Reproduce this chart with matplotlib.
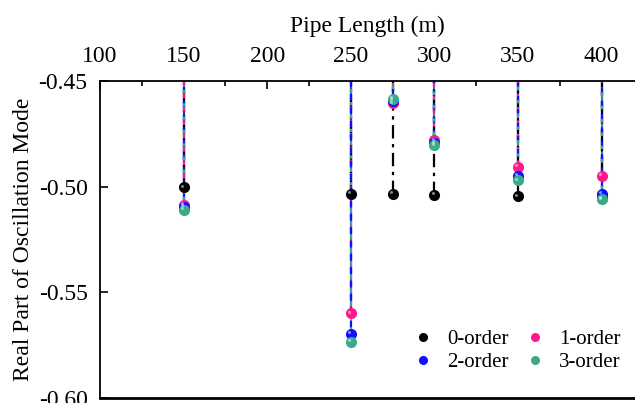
import matplotlib
matplotlib.use("Agg")
import matplotlib.pyplot as plt
from matplotlib.ticker import MultipleLocator
from matplotlib.lines import Line2D
from matplotlib.transforms import offset_copy

plt.rcParams['font.family'] = ['Liberation Serif', 'DejaVu Serif']

lengths = [150, 250, 275, 300, 350, 400]
order0 = [-0.5003, -0.5035, -0.5035, -0.5040, -0.5045, -0.5055]
order1 = [-0.5085, -0.5600, -0.4605, -0.4780, -0.4905, -0.4950]
order2 = [-0.5095, -0.5695, -0.4595, -0.4795, -0.4950, -0.5035]
order3 = [-0.5110, -0.5735, -0.4585, -0.4805, -0.4970, -0.5060]

labels = ['0-order', '1-order', '2-order', '3-order']
colors = ['#000000', '#ff1a8c', '#1010ff', '#3aaa8a']
series = [order0, order1, order2, order3]

FS = 17
fig = plt.figure(figsize=(6.35, 4.03), dpi=100)
ax = fig.add_axes([100/635, 5/403, 535/635, 317/403])
ymax = -0.45
ax.set_xlim(100, 420)
ax.set_ylim(-0.60, -0.45)

dash_styles = [
    (0, (6, 2.5, 1.5, 2.5)),
    (0, (3, 3)),
    (3, (3, 3)),
    (1.5, (1.5, 4.5)),
]
for vals, c, ls in zip(series, colors, dash_styles):
    ax.vlines(lengths, vals, [ymax]*len(vals), colors=c, linestyles=ls, lw=1.6, zorder=2)
ax.vlines(lengths, order1, [ymax]*len(lengths), colors='#2a8aa0', lw=1.6, zorder=1.9)
ax.vlines(lengths, order3, [ymax]*len(lengths), colors='#3aaa8a', lw=1.2, zorder=1.8)

hl = offset_copy(ax.transData, fig=fig, x=-1.2, y=1.2, units='points')
for vals, c in zip(series, colors):
    ax.plot(lengths, vals, 'o', color=c, ms=7, mec=c, zorder=4, clip_on=False)
    ax.plot(lengths, vals, 'o', color='white', alpha=0.5, ms=2.2, mec='none', zorder=5,
            transform=hl, clip_on=False)

ax.xaxis.tick_top()
ax.xaxis.set_label_position('top')
ax.set_xticks([100, 150, 200, 250, 300, 350, 400])
ax.xaxis.set_minor_locator(MultipleLocator(25))
ax.set_yticks([-0.60, -0.55, -0.50, -0.45])
ax.set_yticklabels(['-0.60', '-0.55', '-0.50', '-0.45'])
ax.tick_params(axis='both', which='major', direction='in', length=6, width=1.2, labelsize=FS)
ax.tick_params(axis='x', which='minor', direction='in', length=3.5, width=1.2, top=True, bottom=False)
ax.tick_params(axis='x', pad=10)
ax.tick_params(axis='y', pad=9)
ax.set_xlabel('Pipe Length (m)', fontsize=FS, labelpad=10)
ax.set_ylabel('Real Part of Oscillation Mode', fontsize=FS, labelpad=3)
for s in ['top', 'left', 'bottom']:
    ax.spines[s].set_linewidth(1.3)
ax.spines['bottom'].set_linewidth(2.0)
ax.spines['right'].set_visible(False)

handles = [Line2D([], [], ls='none', marker='o', color=c, ms=5.5) for c in colors]
order_h = [handles[0], handles[2], handles[1], handles[3]]
order_l = [labels[0], labels[2], labels[1], labels[3]]
leg = ax.legend(order_h, order_l, ncol=2, loc='lower right', bbox_to_anchor=(0.996, 0.043),
                frameon=False, fontsize=15, handlelength=1.0, handletextpad=0.65,
                columnspacing=0.75, labelspacing=0.15, borderaxespad=0.2)

fig.savefig('out.png', dpi=100)
